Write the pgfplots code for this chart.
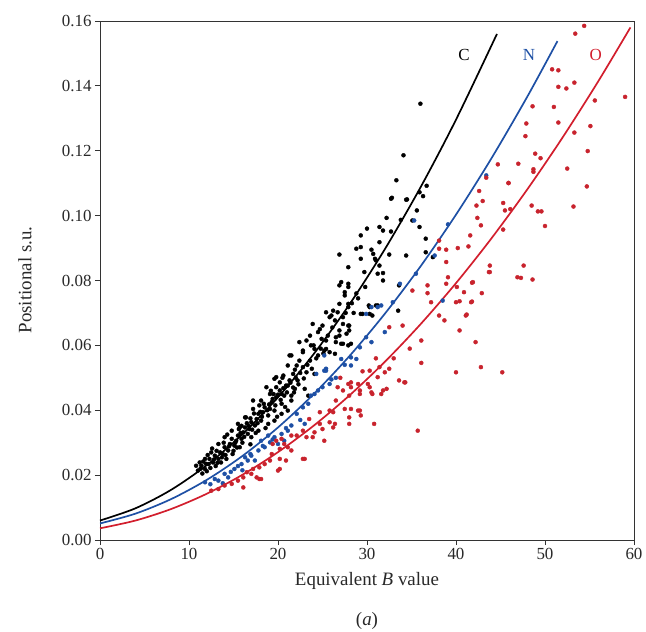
\documentclass[border=0pt]{standalone}
\usepackage{pgfplots}
\pgfplotsset{compat=1.18}
\usepackage{fontspec}
\setmainfont{Liberation Serif}
\definecolor{cblue}{RGB}{30,80,165}
\definecolor{cred}{RGB}{210,30,45}
\definecolor{dred}{RGB}{200,35,45}
\definecolor{txt}{RGB}{40,40,40}
\begin{document}
\begin{tikzpicture}
\begin{axis}[
  at={(0,0)}, anchor=south west,
  scale only axis, width=534bp, height=519bp,
  xmin=0, xmax=60, ymin=0, ymax=0.16,
  xtick={0,10,20,30,40,50,60},
  ytick={0,0.02,0.04,0.06,0.08,0.10,0.12,0.14,0.16},
  xtick pos=bottom, ytick pos=left,
  tick align=outside, major tick length=5bp,
  axis line style={line width=0.9pt, black!80},
  tick style={line width=0.9pt, black!80},
  /pgf/number format/assume math mode=true,
  yticklabel style={/pgf/number format/.cd, fixed, fixed zerofill, precision=2},
  scaled y ticks=false,
  tick label style={font=\fontsize{17}{20}\selectfont, text=txt},
  clip=false,
]
% ---- C (black) points
\addplot[only marks, mark=*, mark size=2bp, black] coordinates {
(11.0,0.0214)(11.4,0.0229)(11.8,0.0219)(12.2,0.0234)(12.3,0.0250)(12.7,0.0239)(12.9,0.0260)(13.3,0.0250)(13.5,0.0270)(13.8,0.0265)
(14.0,0.0286)(14.4,0.0276)(14.6,0.0296)(14.8,0.0312)(15.1,0.0291)(15.3,0.0306)(15.5,0.0322)(15.9,0.0312)(16.1,0.0332)(16.3,0.0347)
(16.6,0.0327)(16.8,0.0342)(17.0,0.0363)(17.4,0.0353)(17.6,0.0373)(17.8,0.0389)(18.1,0.0368)(18.3,0.0394)(18.5,0.0409)(18.9,0.0384)
(19.1,0.0404)(19.3,0.0425)(18.7,0.0471)(19.6,0.0399)(19.8,0.0440)(20.2,0.0461)(20.4,0.0420)(20.7,0.0445)(21.1,0.0476)(21.5,0.0430)
(18.1,0.0430)(17.2,0.0404)(16.3,0.0378)(15.5,0.0358)(14.8,0.0337)(14.0,0.0317)(13.3,0.0296)(12.5,0.0270)(11.8,0.0250)(11.2,0.0239)
(10.8,0.0229)(13.6,0.0239)(14.9,0.0265)(15.7,0.0286)(17.0,0.0317)(17.8,0.0337)(18.9,0.0358)(19.6,0.0368)(20.4,0.0389)(21.1,0.0399)
(11.5,0.0205)(12.0,0.0212)(13.0,0.0228)(14.2,0.0250)(15.0,0.0275)(16.0,0.0300)(16.9,0.0295)(17.5,0.0330)(18.6,0.0345)(19.9,0.0380)
(16.5,0.0360)(13.9,0.0300)(12.6,0.0282)(15.6,0.0342)(17.3,0.0390)(18.4,0.0420)(19.5,0.0450)(20.8,0.0410)(21.8,0.0455)(22.3,0.0480)
(11.3,0.0220)(11.9,0.0235)(12.4,0.0222)(12.8,0.0248)(13.2,0.0238)(13.7,0.0255)(14.1,0.0262)(14.5,0.0289)(15.2,0.0300)(15.4,0.0285)
(15.8,0.0330)(16.2,0.0318)(16.7,0.0352)(17.1,0.0340)(17.7,0.0360)(18.0,0.0395)(18.2,0.0380)(18.8,0.0400)(19.0,0.0418)(19.4,0.0435)
(19.7,0.0415)(20.0,0.0448)(20.3,0.0432)(20.6,0.0468)(21.0,0.0455)(21.4,0.0485)(21.7,0.0470)(22.0,0.0500)(22.5,0.0515)(22.9,0.0498)
(23.3,0.0540)(23.8,0.0528)(24.3,0.0560)(24.8,0.0590)(25.1,0.0575)(16.9,0.0375)(17.9,0.0415)(19.2,0.0460)(20.5,0.0500)(21.9,0.0525)
(23.7,0.0600)(24.9,0.0620)(26.1,0.0655)(27.6,0.0700)(28.3,0.0730)(14.3,0.0325)(15.9,0.0352)(13.1,0.0275)(12.1,0.0262)(11.6,0.0242)
(23.9,0.0666)(22.8,0.0584)(21.3,0.0569)(19.8,0.0502)(17.2,0.0430)(16.4,0.0378)(15.7,0.0347)
(26.9,0.0785)(27.9,0.0790)(27.5,0.0754)(26.9,0.0728)(27.9,0.0728)(25.4,0.0702)(26.0,0.0692)(25.0,0.0661)(26.4,0.0677)(27.3,0.0687)
(27.9,0.0661)(28.0,0.0646)(24.5,0.0641)(23.6,0.0630)(25.6,0.0630)(26.9,0.0630)(23.2,0.0615)(22.4,0.0610)(26.5,0.0610)(27.3,0.0605)
(27.9,0.0600)(24.1,0.0589)(25.4,0.0589)(22.8,0.0579)(21.5,0.0569)(24.5,0.0569)(25.8,0.0579)(22.4,0.0553)(23.6,0.0553)(21.1,0.0538)
(22.1,0.0538)(22.8,0.0533)(20.6,0.0507)(21.7,0.0512)(23.2,0.0517)(24.1,0.0512)(19.6,0.0497)(20.2,0.0486)(21.3,0.0492)(22.2,0.0492)
(19.8,0.0471)(20.9,0.0476)(21.9,0.0466)(23.0,0.0466)(19.1,0.0450)(20.4,0.0450)(21.5,0.0445)(23.4,0.0445)
(25.8,0.0687)(26.7,0.0702)(27.9,0.0718)(27.3,0.0666)(28.0,0.0661)(26.9,0.0646)(27.7,0.0636)(26.5,0.0625)(25.4,0.0615)(27.1,0.0605)
(28.2,0.0605)(25.2,0.0584)(26.4,0.0574)(29.5,0.0697)(30.3,0.0718)(30.6,0.0692)(31.2,0.0723)(33.5,0.0707)
(33.3,0.1109)(32.7,0.1052)(34.4,0.1049)(32.2,0.0993)(33.8,0.0987)(31.4,0.0965)(31.8,0.0954)(32.7,0.0951)(30.0,0.0960)(29.3,0.0939)
(31.4,0.0918)(28.8,0.0898)(29.3,0.0903)(30.5,0.0895)(26.9,0.0880)(30.7,0.0882)(34.4,0.0877)(29.3,0.0867)(31.0,0.0862)(27.9,0.0841)
(31.4,0.0846)(31.2,0.0821)(31.8,0.0823)(27.1,0.0795)(27.9,0.0780)(31.8,0.0800)(33.6,0.0785)(27.5,0.0764)(26.2,0.0707)(30.2,0.0723)
(31.0,0.0723)(29.3,0.0697)(30.3,0.0697)(36.0,0.1345)(34.1,0.1186)(32.8,0.1055)(34.5,0.1050)(35.9,0.1072)(36.7,0.1092)(36.3,0.1060)
(35.6,0.1016)(35.1,0.0985)(35.9,0.0965)(36.6,0.0929)(36.6,0.0887)(37.4,0.0872)(30.9,0.0867)(29.7,0.0826)(28.8,0.0760)(29.0,0.0745)
(28.5,0.0700)(24.7,0.0650)(24.0,0.0600)(29.8,0.0780)(32.5,0.0880)
};
% ---- N (blue) points
\addplot[only marks, mark=*, mark size=2bp, cblue] coordinates {
(11.8,0.0178)(12.9,0.0188)(14.0,0.0204)(15.1,0.0219)(15.9,0.0234)(16.6,0.0245)(17.0,0.0260)(17.8,0.0276)(18.5,0.0286)(19.1,0.0301)
(19.6,0.0317)(20.4,0.0327)(21.1,0.0337)(18.1,0.0306)(18.9,0.0322)(16.3,0.0255)(17.4,0.0245)(14.4,0.0193)(13.3,0.0183)(20.0,0.0296)
(20.7,0.0306)(21.5,0.0353)(29.9,0.0625)(29.2,0.0594)(28.2,0.0563)(27.1,0.0558)(25.2,0.0522)(24.3,0.0512)(25.8,0.0481)(24.5,0.0461)
(23.7,0.0445)(29.9,0.0697)(28.2,0.0538)(25.4,0.0522)(25.0,0.0471)(24.1,0.0450)(22.8,0.0409)(22.1,0.0389)(23.0,0.0358)(28.8,0.0558)
(30.5,0.0610)(25.2,0.0569)(25.4,0.0528)(32.0,0.0641)(30.5,0.0718)(31.2,0.0718)(31.6,0.0723)(32.9,0.0733)(35.3,0.0985)(39.1,0.0973)
(43.4,0.1124)(37.6,0.0877)(35.5,0.0821)(38.5,0.0738)(33.7,0.0790)(22.5,0.0370)(26.5,0.0500)(16.0,0.0215)(13.8,0.0175)
(12.4,0.0172)(14.7,0.0210)(15.5,0.0228)(16.9,0.0265)(18.3,0.0290)(19.4,0.0310)(20.9,0.0345)(23.4,0.0420)(26.0,0.0495)(27.5,0.0540)
};
% ---- O (red) points
\addplot[only marks, mark=*, mark size=2bp, dred] coordinates {
(12.5,0.0152)(13.3,0.0157)(14.0,0.0168)(14.8,0.0173)(15.5,0.0183)(16.1,0.0193)(16.5,0.0209)(17.0,0.0204)(17.2,0.0219)(17.6,0.0193)
(17.9,0.0224)(18.1,0.0188)(18.5,0.0234)(19.1,0.0245)(19.3,0.0265)(19.4,0.0296)(19.8,0.0306)(20.2,0.0281)(20.2,0.0250)(20.4,0.0312)
(20.7,0.0296)(21.1,0.0286)(21.5,0.0322)(21.5,0.0276)(16.1,0.0162)(20.0,0.0214)(17.9,0.0188)(20.2,0.0219)(22.8,0.0250)(25.2,0.0306)
(23.9,0.0317)(20.9,0.0245)
(32.5,0.0528)(32.0,0.0517)(33.6,0.0492)(34.2,0.0486)(30.3,0.0522)(31.2,0.0502)(32.2,0.0466)(31.6,0.0450)(30.5,0.0455)(30.1,0.0481)
(29.2,0.0450)(28.2,0.0486)(27.9,0.0481)(27.3,0.0461)(26.7,0.0471)(28.0,0.0445)(29.0,0.0481)(27.5,0.0404)(28.2,0.0404)(29.0,0.0399)
(29.3,0.0384)(28.0,0.0378)(26.2,0.0394)(24.7,0.0394)(23.5,0.0373)(24.7,0.0358)(25.8,0.0363)(26.4,0.0358)(25.0,0.0342)(24.1,0.0332)
(22.8,0.0337)(22.1,0.0322)(23.2,0.0317)(23.0,0.0250)(30.8,0.0358)(35.7,0.0337)
(25.8,0.0399)(26.2,0.0347)(28.0,0.0358)(29.2,0.0399)(28.2,0.0471)(29.2,0.0461)(30.3,0.0471)(30.6,0.0450)(31.8,0.0461)(31.4,0.0533)
(34.3,0.0486)(36.1,0.0615)(36.1,0.0546)(38.7,0.0677)(40.4,0.0646)(41.1,0.0692)(42.2,0.0610)(40.0,0.0517)(42.8,0.0533)(45.2,0.0517)
(41.7,0.0733)(34.0,0.0661)(32.5,0.0656)
(39.1,0.0810)(36.8,0.0785)(38.9,0.0790)(36.8,0.0761)(37.2,0.0733)(40.4,0.0736)(41.8,0.0735)(40.9,0.0764)(41.8,0.0793)(42.9,0.0761)
(43.8,0.0826)(47.3,0.0808)(48.6,0.0803)(41.2,0.0695)
(44.7,0.1158)(43.4,0.1117)(45.9,0.1100)(42.6,0.1076)(43.0,0.1045)(42.3,0.1031)(45.3,0.1039)(45.5,0.1016)(46.1,0.1020)(42.4,0.0993)
(42.8,0.0970)(41.6,0.0939)(38.1,0.0923)(41.4,0.0905)(40.2,0.0900)(38.9,0.0895)(38.1,0.0898)(38.9,0.0857)(43.8,0.0846)(43.7,0.0826)
(41.9,0.0795)(46.9,0.0810)
(54.4,0.1585)(53.4,0.1561)(50.8,0.1451)(51.5,0.1448)(51.5,0.1397)(52.4,0.1392)(53.3,0.1410)(59.0,0.1366)(55.6,0.1355)(48.6,0.1337)
(51.0,0.1335)(47.9,0.1284)(51.5,0.1287)(55.1,0.1276)(47.8,0.1245)(53.3,0.1256)(54.8,0.1199)(48.9,0.1191)(49.5,0.1177)(47.0,0.1160)
(48.7,0.1143)(48.7,0.1135)(52.5,0.1145)(45.9,0.1101)(54.7,0.1090)(48.5,0.1031)(49.2,0.1013)(49.6,0.1013)(53.2,0.1028)(50.0,0.0968)
(45.3,0.0957)(47.6,0.0846)(40.1,0.0780)(35.1,0.0769)(40.0,0.0733)(38.1,0.0692)
(33.0,0.0560)(34.8,0.0590)(26.5,0.0430)(27.0,0.0500)(29.5,0.0520)(31.0,0.0560)
};
% ---- fitted curves
\addplot[black, line width=1.7pt, smooth] coordinates {
(0,0.0060)(4,0.00979)(8,0.01548)(12,0.02308)(16,0.03258)(20,0.04398)(24,0.05729)(28,0.07251)(32,0.08963)(36,0.10865)(40,0.12958)(44.6,0.15600)
};
\addplot[cblue, line width=1.7pt, smooth] coordinates {
(0,0.0051)(4,0.00814)(8,0.01262)(12,0.01854)(16,0.0259)(20,0.0347)(24,0.04494)(28,0.05662)(32,0.06974)(36,0.0843)(40,0.1003)(44,0.11774)(48,0.13662)(51.4,0.1538)
};
\addplot[cred, line width=1.7pt, smooth] coordinates {
(0,0.0036)(4,0.00601)(8,0.00956)(12,0.01426)(16,0.0201)(20,0.02709)(24,0.03522)(28,0.0445)(32,0.05492)(36,0.06648)(40,0.07919)(44,0.09305)(48,0.10805)(52,0.12419)(56,0.14148)(59.6,0.15802)
};
\node[font=\fontsize{17}{20}\selectfont, text=black] at (axis cs:40.9,0.1494) {C};
\node[font=\fontsize{17}{20}\selectfont, text=cblue] at (axis cs:48.2,0.1494) {N};
\node[font=\fontsize{17}{20}\selectfont, text=cred] at (axis cs:55.7,0.1494) {O};
\end{axis}
\node[rotate=90, font=\fontsize{19}{22}\selectfont, text=txt] at (-75bp,260bp) {Positional s.u.};
\node[anchor=base, font=\fontsize{19}{22}\selectfont, text=txt] at (267bp,-45bp) {Equivalent \textit{B} value};
\node[anchor=base, font=\fontsize{19}{22}\selectfont, text=txt] at (267bp,-85bp) {(\textit{a})};
\pgfresetboundingbox
\path[use as bounding box] (-100bp,-92bp) rectangle (546bp,540bp);
\end{tikzpicture}
\end{document}
